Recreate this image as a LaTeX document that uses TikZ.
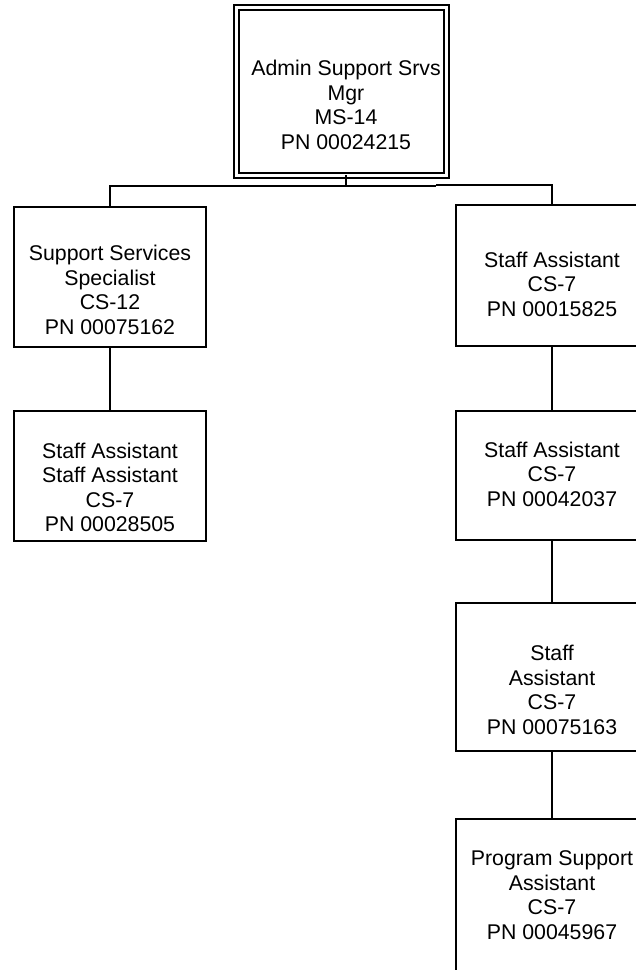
\documentclass[tikz,border=0pt]{standalone}
\usepackage{fontspec}
\setmainfont{Liberation Sans}
\usetikzlibrary{calc}
\begin{document}
\begin{tikzpicture}[x=1pt,y=-1pt,
  box/.style={draw=black,line width=2pt,rectangle,inner sep=0pt,outer sep=0pt,
    minimum width=192pt},
  headbox/.style={box,double=white,double distance=3pt,line width=2pt,
    minimum width=210pt,minimum height=168pt},
  txt/.style={align=center,inner sep=0pt,font=\fontsize{21.3}{24.5}\selectfont},
  link/.style={draw=black,line width=2pt}]
\useasboundingbox (0,0) rectangle (636,970);
\clip (0,0) rectangle (636,970);

% manager
\node[headbox] (top) at (341.5,91) {};
\node[txt] (topText) at (346,105) {Admin Support Srvs\\Mgr\\MS-14\\PN 00024215};

% left branch
\node[box,minimum height=140pt] (l1) at (110,277) {};
\node[txt] (l1Text) at (110,290) {Support Services\\Specialist\\CS-12\\PN 00075162};
\node[box,minimum height=130pt] (l2) at (110,476) {};
\node[txt] (l2Text) at (110,487.5) {Staff Assistant\\Staff Assistant\\CS-7\\PN 00028505};

% right branch
\node[box,minimum height=141pt] (r1) at (552,275.5) {};
\node[txt] (r1Text) at (552,284) {Staff Assistant\\CS-7\\PN 00015825};
\node[box,minimum height=129pt] (r2) at (552,475.5) {};
\node[txt] (r2Text) at (552,474) {Staff Assistant\\CS-7\\PN 00042037};
\node[box,minimum height=148pt] (r3) at (552,677) {};
\node[txt] (r3Text) at (552,690) {Staff\\Assistant\\CS-7\\PN 00075163};
\node[box,minimum height=170pt] (r4) at (552,904) {};
\node[txt] (r4Text) at (552,895) {Program Support\\Assistant\\CS-7\\PN 00045967};

% connectors
\coordinate (jogL) at (436,186);
\coordinate (jogR) at (436,185);
\draw[link] (topText |- top.south) -- (topText |- jogL);
\draw[link] (l1.north) |- (jogL);
\draw[link] (jogR) -| (r1.north);
\draw[link] (l1.south) -- (l2.north);
\draw[link] (r1.south) -- (r2.north);
\draw[link] (r2.south) -- (r3.north);
\draw[link] (r3.south) -- (r4.north);
\end{tikzpicture}
\end{document}
